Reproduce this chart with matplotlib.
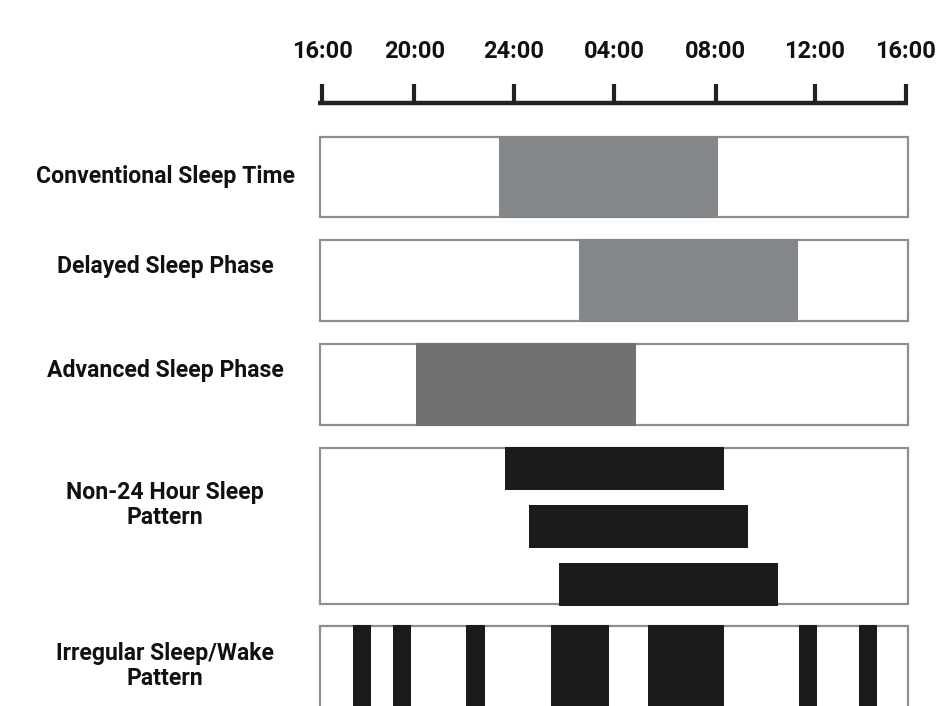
import matplotlib.pyplot as plt
from matplotlib.patches import Rectangle
from matplotlib.transforms import blended_transform_factory

plt.rcParams['font.family'] = ['Roboto', 'DejaVu Sans']

# time axis (hours after 16:00), tick positions
tick_hours = [0.1, 3.85, 7.9, 12.0, 16.15, 20.2, 23.9]
tick_labels = ['16:00', '20:00', '24:00', '04:00', '08:00', '12:00', '16:00']

patterns = ['Conventional Sleep Time', 'Delayed Sleep Phase', 'Advanced Sleep Phase',
            'Non-24 Hour Sleep\nPattern', 'Irregular Sleep/Wake\nPattern']

# sleep episodes (start, end) in hours after 16:00
conventional = [(7.32, 16.26)]
delayed = [(10.58, 19.52)]
advanced = [(3.92, 12.89)]
non24 = [(7.55, 16.49), (8.53, 17.48), (9.77, 18.71)]
irregular = [(1.35, 2.09), (2.97, 3.70), (5.97, 6.72), (9.44, 11.79),
             (13.40, 16.47), (19.54, 20.29), (22.01, 22.75)]

# layout in pixel rows (figure is 949x706 px)
PX_PER_H = 24.5
X0 = 320
row_box = [(137, 217), (240, 321), (344, 425), (448, 604), (626, 740)]
label_y = [176, 267, 371, 505, 666]
non24_rows = [(448, 489), (506, 547), (564, 605)]

GRAY = '#838789'
DARKGRAY = '#717171'
BLACK = '#1b1b1b'
BORDER = '#8b8f92'
AXIS = '#222222'

fig = plt.figure(figsize=(9.49, 7.06), dpi=100)
ax = fig.add_axes([0, 0, 1, 1])
ax.set_xlim(-X0 / PX_PER_H, (949 - X0) / PX_PER_H)
ax.set_ylim(706, 0)
ax.axis('off')

# timeline
ax.plot([-0.08, 24.0], [103, 103], color=AXIS, lw=3.2, solid_capstyle='butt', zorder=3)
ax.vlines(tick_hours, 84, 104, color=AXIS, lw=3.0, zorder=3)
for h, lab in zip(tick_hours, tick_labels):
    ax.text(h, 58, lab, ha='center', va='baseline', fontsize=17, fontweight='bold', color='#111111')

# boxes
for top, bot in row_box:
    ax.add_patch(Rectangle((0, top), 24, bot - top, facecolor='white',
                           edgecolor=BORDER, lw=1.6, zorder=1))

def band(episodes, top, bot, color):
    for s, e in episodes:
        ax.add_patch(Rectangle((s, top - 1), e - s, bot - top + 2,
                               facecolor=color, edgecolor='none', zorder=2))

band(conventional, *row_box[0], GRAY)
band(delayed, *row_box[1], GRAY)
band(advanced, *row_box[2], DARKGRAY)
for ep, (top, bot) in zip(non24, non24_rows):
    band([ep], top, bot, BLACK)
band(irregular, *row_box[4], BLACK)

# row labels
trans = blended_transform_factory(ax.transAxes, ax.transData)
for lab, y in zip(patterns, label_y):
    ax.text(165 / 949, y, lab, transform=trans, ha='center', va='center',
            fontsize=16.6, fontweight='bold', color='#111111', linespacing=1.12)

fig.savefig('out.png', dpi=100)
